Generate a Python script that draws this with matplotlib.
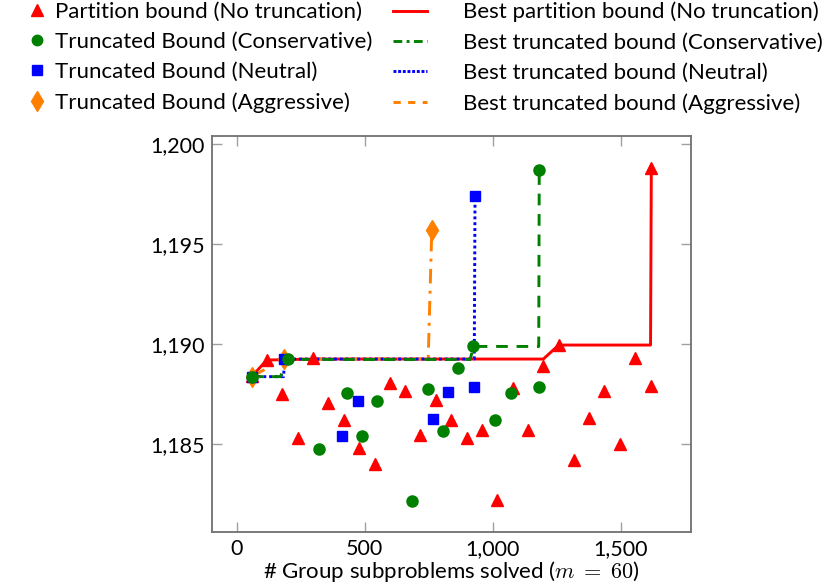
import matplotlib
matplotlib.use("Agg")
import matplotlib.pyplot as plt
from matplotlib.lines import Line2D
from matplotlib.ticker import FuncFormatter

plt.rcParams['font.family'] = ['Lato', 'DejaVu Sans']
plt.rcParams['mathtext.fontset'] = 'cm'

# Partition bound (no truncation)
red_x = [60, 117, 178, 238, 299, 358, 419, 479, 539, 598, 657, 717, 777, 837,
         898, 958, 1017, 1079, 1138, 1198, 1258, 1318, 1377, 1437, 1497, 1557,
         1617, 1620]
red_y = [1188.4, 1189.2, 1187.5, 1185.3, 1189.3, 1187.05, 1186.2, 1184.8,
         1184.0, 1188.03, 1187.63, 1185.45, 1187.2, 1186.2, 1185.3, 1185.7,
         1182.2, 1187.8, 1185.7, 1188.9, 1189.95, 1184.2, 1186.3, 1187.65,
         1185.0, 1189.3, 1187.9, 1198.8]

# Truncated bound, conservative
green_x = [58, 202, 320, 430, 489, 549, 686, 746, 807, 866, 925, 1010, 1070,
           1181, 1182]
green_y = [1188.37, 1189.23, 1184.73, 1187.57, 1185.4, 1187.15, 1182.17,
           1187.75, 1185.67, 1188.82, 1189.88, 1186.2, 1187.57, 1187.83, 1198.7]

# Truncated bound, neutral
blue_x = [58, 186, 412, 472, 766, 825, 928, 931]
blue_y = [1188.37, 1189.25, 1185.4, 1187.15, 1186.23, 1187.58, 1187.83, 1197.4]

# Truncated bound, aggressive
orange_x = [58, 184, 762]
orange_y = [1188.37, 1189.25, 1195.7]

# Best bound found so far for each method
red_best_x = [60, 117, 299, 1198, 1258, 1617, 1620]
red_best_y = [1188.4, 1189.2, 1189.25, 1189.25, 1189.95, 1189.95, 1198.8]
green_best_x = [58, 170, 202, 912, 925, 1180, 1182]
green_best_y = [1188.37, 1188.37, 1189.23, 1189.23, 1189.88, 1189.88, 1198.7]
blue_best_x = [58, 183, 186, 928, 931]
blue_best_y = [1188.37, 1188.37, 1189.25, 1189.25, 1197.4]
orange_best_x = [58, 184, 748, 762]
orange_best_y = [1188.37, 1189.25, 1189.25, 1195.7]

RED = '#ff0000'
GREEN = '#008000'
BLUE = '#0000ff'
ORANGE = '#ff8000'

FS = 16

fig = plt.figure(figsize=(8.22, 5.87), dpi=100)
ax = fig.add_axes([0.2579, 0.0937, 0.5827, 0.6751])

lw = 2.1
ax.plot(red_best_x, red_best_y, color=RED, lw=lw, zorder=2)
ax.plot(orange_best_x, orange_best_y, color=ORANGE, lw=lw,
        dashes=(5, 2.5, 1, 2.5), zorder=2)
ax.plot(blue_best_x, blue_best_y, color=BLUE, lw=lw, dashes=(1, 1), zorder=2)
ax.plot(green_best_x, green_best_y, color=GREEN, lw=lw, dashes=(4, 3), zorder=2)

ax.plot(red_x, red_y, ls='none', marker='^', ms=8.5, color=RED, mec=RED, zorder=3)
ax.plot(orange_x, orange_y, ls='none', marker='d', ms=10.5, color=ORANGE, mec=ORANGE, zorder=3)
ax.plot(blue_x, blue_y, ls='none', marker='s', ms=7, color=BLUE, mec=BLUE, zorder=3)
ax.plot(green_x, green_y, ls='none', marker='o', ms=8, color=GREEN, mec=GREEN, zorder=3)

ax.set_xlim(-97, 1775)
ax.set_ylim(1180.6, 1200.42)
ax.set_xticks([0, 500, 1000, 1500])
ax.set_yticks([1185, 1190, 1195, 1200])
fmt = FuncFormatter(lambda v, p: f"{int(round(v)):,}")
ax.xaxis.set_major_formatter(fmt)
ax.yaxis.set_major_formatter(fmt)

for s in ax.spines.values():
    s.set_color('#707070')
    s.set_linewidth(1.3)
ax.tick_params(direction='in', length=7, width=1.0, color='#a0a0a0',
               top=True, right=True, labelsize=15.5, pad=5)
ax.set_xlabel(r"# Group subproblems solved ($m\;=\;60$)", fontsize=16, labelpad=0)

marker_handles = [
    Line2D([], [], ls='none', marker='^', ms=8, color=RED),
    Line2D([], [], ls='none', marker='o', ms=7.5, color=GREEN),
    Line2D([], [], ls='none', marker='s', ms=6.5, color=BLUE),
    Line2D([], [], ls='none', marker='d', ms=10, color=ORANGE),
]
marker_labels = [
    'Partition bound (No truncation)',
    'Truncated Bound (Conservative)',
    'Truncated Bound (Neutral)',
    'Truncated Bound (Aggressive)',
]
line_handles = [
    Line2D([], [], color=RED, lw=lw),
    Line2D([], [], color=GREEN, lw=lw, dashes=(3, 1.5, 1, 1.5)),
    Line2D([], [], color=BLUE, lw=lw, dashes=(1, 0.6)),
    Line2D([], [], color=ORANGE, lw=lw, dashes=(2.5, 2.5)),
]
line_labels = [
    'Best partition bound (No truncation)',
    'Best truncated bound (Conservative)',
    'Best truncated bound (Neutral)',
    'Best truncated bound (Aggressive)',
]
common = dict(loc='upper left', frameon=False, fontsize=FS, labelspacing=0.46,
              borderaxespad=0.0, borderpad=0.0)
fig.legend(marker_handles, marker_labels, bbox_to_anchor=(0.0316, 0.997),
           handlelength=1.0, handletextpad=0.3, **common)
fig.legend(line_handles, line_labels, bbox_to_anchor=(0.478, 0.997),
           handlelength=1.55, handletextpad=1.6, **common)

fig.savefig('out.png', dpi=100)
